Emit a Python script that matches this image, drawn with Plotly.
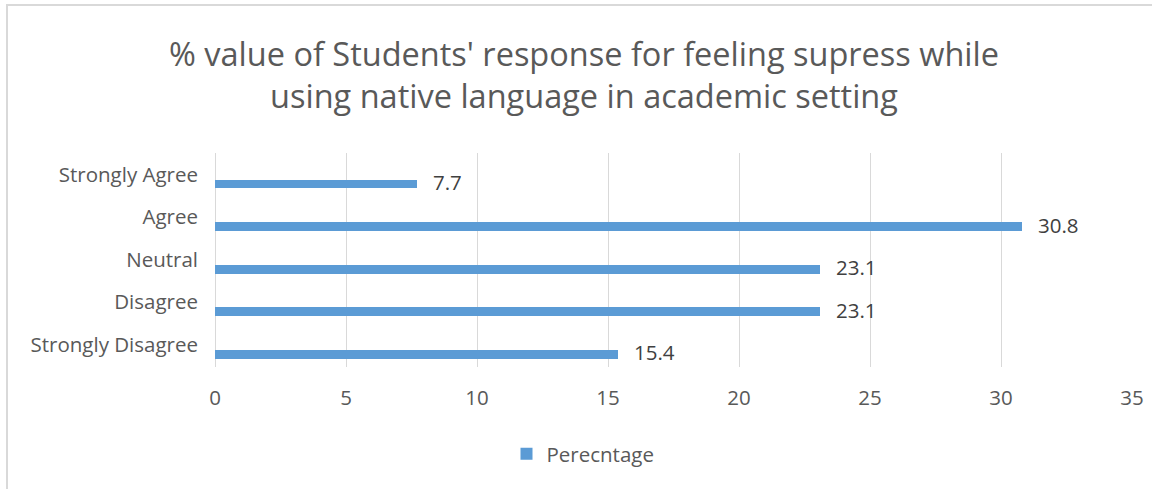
import plotly.graph_objects as go

categories = ["Strongly Agree", "Agree", "Neutral", "Disagree", "Strongly Disagree"]
values = [7.7, 30.8, 23.1, 23.1, 15.4]
value_labels = ["7.7", "30.8", "23.1", "23.1", "15.4"]
series_name = "Perecntage"
x_ticks = [0, 5, 10, 15, 20, 25, 30, 35]
title_text = "% value of Students' response for feeling supress while<br>using native language in academic setting"

FONT = "Open Sans"
GRAY = "#595959"
DARK = "#404040"
GRID = "#d9d9d9"
BAR = "#5b9bd5"
FS = 20.5

fig = go.Figure()
fig.add_trace(go.Bar(
    x=values, y=categories, orientation="h", name=series_name,
    marker=dict(color=BAR, line=dict(width=0)),
    width=0.21, offset=0.095,
    showlegend=True, hoverinfo="x+y",
))

for v, c, t in zip(values, categories, value_labels):
    fig.add_annotation(x=v, y=c, text=t, showarrow=False, xanchor="left",
                       xshift=14, yshift=-6.5, xref="x", yref="y",
                       font=dict(family=FONT, size=FS, color=DARK))

fig.update_layout(
    width=1152, height=489, autosize=False,
    margin=dict(l=215, r=20, t=153, b=122, autoexpand=False),
    paper_bgcolor="white", plot_bgcolor="white",
    font=dict(family=FONT, size=FS, color=GRAY),
    title=dict(text=title_text, x=584/1152, xanchor="center", xref="container",
               y=1 - 66/489, yanchor="middle", yref="container",
               font=dict(family=FONT, size=32.5, color=GRAY)),
    xaxis=dict(range=[0, 35], tickvals=x_ticks, showgrid=True, gridcolor=GRID, gridwidth=1,
               zeroline=True, zerolinecolor=GRID, zerolinewidth=1, showline=False,
               ticks="", ticklabelstandoff=16, tickfont=dict(family=FONT, size=FS, color=GRAY),
               fixedrange=True, automargin=False),
    yaxis=dict(categoryorder="array", categoryarray=categories, autorange="reversed",
               showgrid=False, zeroline=False, showline=False, ticks="",
               ticklabelstandoff=16, ticklabelshift=1, tickfont=dict(family=FONT, size=FS, color=GRAY),
               fixedrange=True, automargin=False),
    showlegend=True,
    legend=dict(orientation="h", x=(583 - 215) / 917, xref="paper", xanchor="center",
                y=(367 - 454) / 214, yanchor="middle",
                font=dict(family=FONT, size=FS, color=GRAY), bgcolor="rgba(0,0,0,0)"),
    bargap=0,
)

fig.add_shape(type="rect", xref="paper", yref="paper",
              x0=(7 - 215) / 917, x1=(1170 - 215) / 917,
              y0=(367 - 500) / 214, y1=(367 - 5) / 214,
              line=dict(color=GRID, width=2), fillcolor="rgba(0,0,0,0)", layer="below")

fig.write_html("out.html")
